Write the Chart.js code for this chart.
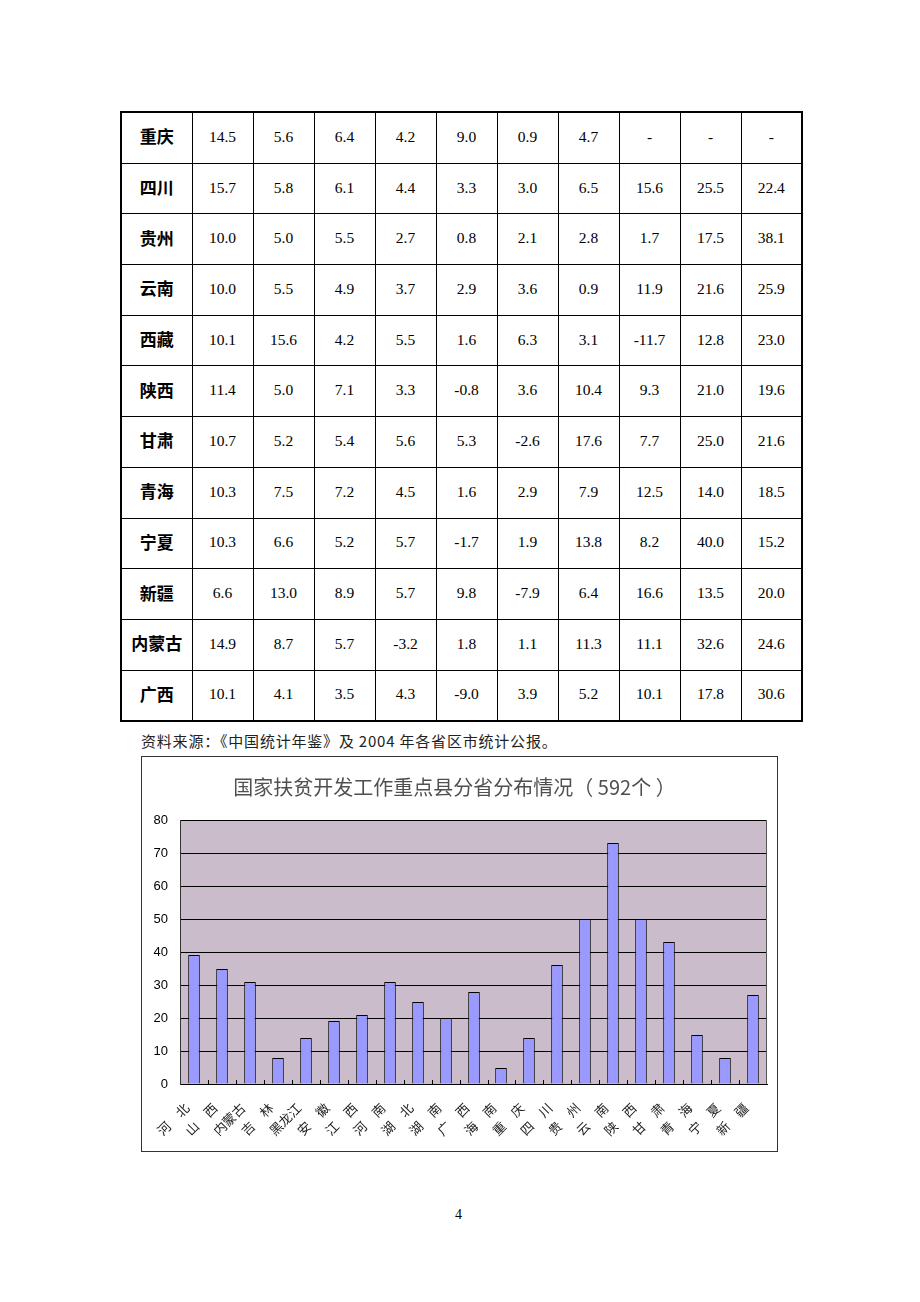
<!DOCTYPE html>
<html><head><meta charset="utf-8">
<script src="https://cdn.jsdelivr.net/npm/chart.js@4.4.1/dist/chart.umd.min.js"></script>
<style>
html,body{margin:0;padding:0;background:#fff;}
body{width:920px;height:1302px;position:relative;overflow:hidden;}
#tbl{position:absolute;left:120px;top:111px;width:681px;border-collapse:collapse;border:2px solid #000;table-layout:fixed;}
#tbl td{border:1px solid #000;height:47.7px;padding:0 0 2px 0;text-align:center;vertical-align:middle;font-family:"Liberation Serif","Times New Roman",serif;font-size:15.5px;color:#000;line-height:18px;}
#tbl td.p{font-family:"Noto Sans CJK SC",sans-serif;font-weight:bold;font-size:17px;height:46.7px;padding:0 0 3px 0;line-height:20px;}
#src{position:absolute;left:141px;top:730px;font-family:"Noto Sans CJK SC",sans-serif;font-size:15px;letter-spacing:0.8px;color:#222;line-height:22px;white-space:nowrap;}
#box{position:absolute;left:141px;top:756px;width:635px;height:394px;border:1px solid #333;}
#box canvas{display:block;}
#page{position:absolute;left:455px;top:1207px;font-family:"Liberation Serif",serif;font-size:14px;color:#000;}
</style>
</head><body>
<table id="tbl"><colgroup id="cols"></colgroup><tbody id="tb"></tbody></table>
<div id="src">资料来源：《中国统计年鉴》及 2004 年各省区市统计公报。</div>
<div id="box"><canvas id="c" width="635" height="394"></canvas></div>
<div id="page">4</div>
<script>
// ---- table data ----
const tableProvinces = ['重庆','四川','贵州','云南','西藏','陕西','甘肃','青海','宁夏','新疆','内蒙古','广西'];
const tableValues = [
  ['14.5','5.6','6.4','4.2','9.0','0.9','4.7','-','-','-'],
  ['15.7','5.8','6.1','4.4','3.3','3.0','6.5','15.6','25.5','22.4'],
  ['10.0','5.0','5.5','2.7','0.8','2.1','2.8','1.7','17.5','38.1'],
  ['10.0','5.5','4.9','3.7','2.9','3.6','0.9','11.9','21.6','25.9'],
  ['10.1','15.6','4.2','5.5','1.6','6.3','3.1','-11.7','12.8','23.0'],
  ['11.4','5.0','7.1','3.3','-0.8','3.6','10.4','9.3','21.0','19.6'],
  ['10.7','5.2','5.4','5.6','5.3','-2.6','17.6','7.7','25.0','21.6'],
  ['10.3','7.5','7.2','4.5','1.6','2.9','7.9','12.5','14.0','18.5'],
  ['10.3','6.6','5.2','5.7','-1.7','1.9','13.8','8.2','40.0','15.2'],
  ['6.6','13.0','8.9','5.7','9.8','-7.9','6.4','16.6','13.5','20.0'],
  ['14.9','8.7','5.7','-3.2','1.8','1.1','11.3','11.1','32.6','24.6'],
  ['10.1','4.1','3.5','4.3','-9.0','3.9','5.2','10.1','17.8','30.6']
];

// ---- chart data ----
const categories = ['河　北','山　西','内蒙古','吉　林','黑龙江','安　徽','江　西','河　南','湖　北','湖　南','广　西','海　南','重　庆','四　川','贵　州','云　南','陕　西','甘　肃','青　海','宁　夏','新　疆'];
const countyCounts = [39,35,31,8,14,19,21,31,25,20,28,5,14,36,50,73,50,43,15,8,27];
const yTickValues = [0,10,20,30,40,50,60,70,80];
const chartTitle = '国家扶贫开发工作重点县分省分布情况（ 592个 ）';

// build table
const cols = document.getElementById('cols');
const c0 = document.createElement('col'); c0.style.width='71px'; cols.appendChild(c0);
for (let i=0;i<10;i++){ const c=document.createElement('col'); c.style.width='61px'; cols.appendChild(c); }
const tb = document.getElementById('tb');
tableProvinces.forEach((p,r)=>{
  const tr=document.createElement('tr');
  const th=document.createElement('td'); th.className='p'; th.textContent=p; tr.appendChild(th);
  tableValues[r].forEach(v=>{ const td=document.createElement('td'); td.textContent=v; tr.appendChild(td); });
  tb.appendChild(tr);
});

const plotDecor = {
  id:'plotDecor',
  beforeDraw(chart){
    const {ctx, chartArea:a} = chart;
    ctx.save(); ctx.fillStyle='#cabcca';
    ctx.fillRect(a.left,a.top,a.right-a.left,a.bottom-a.top); ctx.restore();
  },
  afterDatasetsDraw(chart){
    const {ctx, chartArea:a, scales:{x}} = chart;
    ctx.save(); ctx.strokeStyle='#000'; ctx.lineWidth=1;
    for(let i=1;i<categories.length;i++){
      const px = Math.round((x.getPixelForValue(i-1)+x.getPixelForValue(i))/2)+0.5;
      ctx.beginPath(); ctx.moveTo(px,a.bottom); ctx.lineTo(px,a.bottom-4); ctx.stroke();
    }
    ctx.strokeStyle='#555';
    ctx.beginPath(); ctx.moveTo(Math.round(a.right)-0.5,a.top); ctx.lineTo(Math.round(a.right)-0.5,a.bottom); ctx.stroke();
    ctx.restore();
  }
};

new Chart(document.getElementById('c'), {
  type:'bar',
  data:{ labels:categories, datasets:[{ data:countyCounts, backgroundColor:'#9999ff', borderColor:'#000', borderWidth:1, categoryPercentage:1, barPercentage:0.43 }]},
  options:{
    responsive:false, animation:false, devicePixelRatio:1,
    layout:{ padding:{ left:0, right:10, top:0, bottom:0 } },
    plugins:{
      legend:{display:false}, tooltip:{enabled:false},
      title:{ display:true, text:chartTitle, color:'#505050', font:{family:'"Noto Sans CJK SC", sans-serif', size:20, weight:'normal'}, padding:{top:18,bottom:21} }
    },
    scales:{
      x:{ alignToPixels:true, grid:{display:false}, border:{color:'#000', width:1},
          ticks:{ maxRotation:45, minRotation:45, autoSkip:false, padding:8, labelOffset:-7, color:'#222', font:{family:'"Noto Sans CJK SC", sans-serif', size:13} },
          afterFit(s){ s.height=67; } },
      y:{ alignToPixels:true, min:0, max:80, afterBuildTicks(s){ s.ticks = yTickValues.map(v=>({value:v})); },
          grid:{ color:'#000', lineWidth:1, drawTicks:false }, border:{color:'#333', width:1},
          ticks:{ padding:12, color:'#000', font:{family:'"Liberation Sans", Arial, sans-serif', size:13} },
          afterFit(s){ s.width=38; } }
    }
  },
  plugins:[plotDecor]
});
</script>
</body></html>
